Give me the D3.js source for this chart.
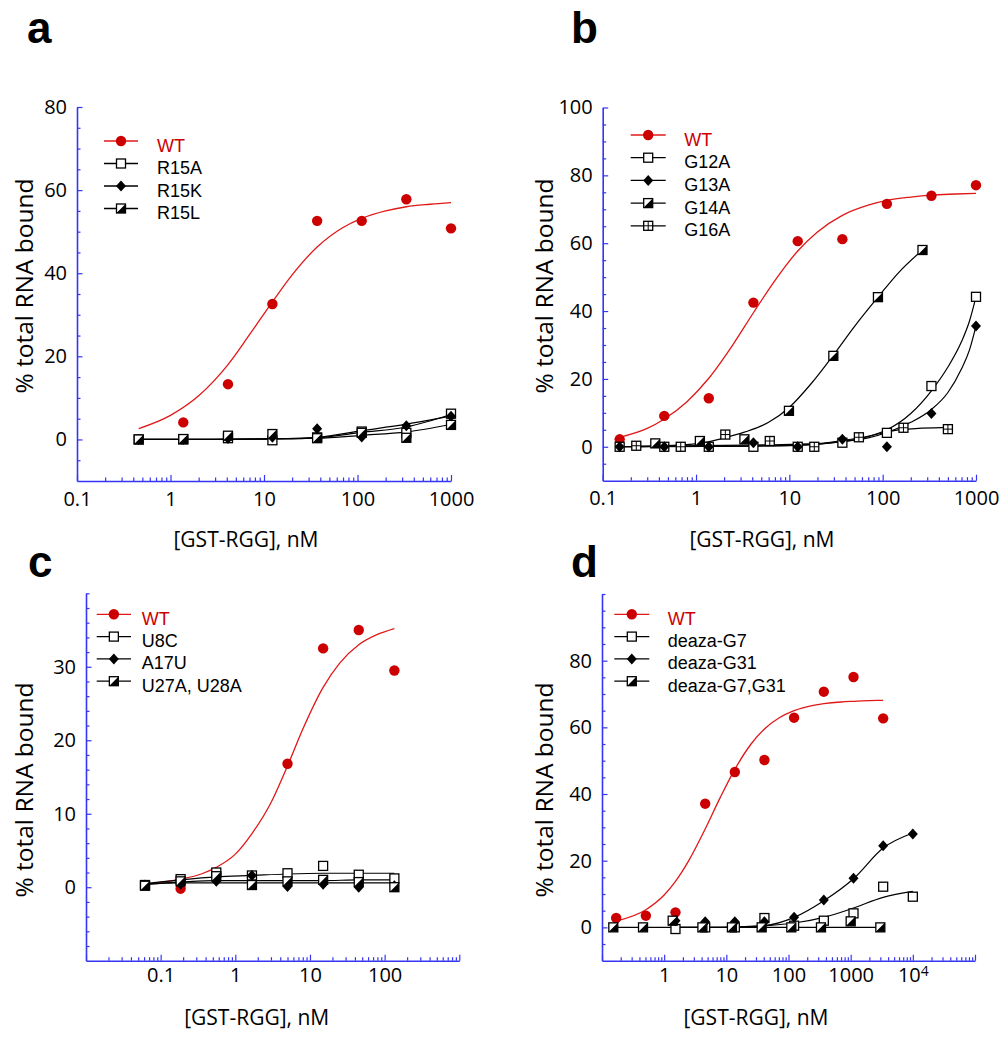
<!DOCTYPE html>
<html><head><meta charset="utf-8">
<script src="https://cdn.jsdelivr.net/npm/d3@7"></script>
<style>
body{margin:0;background:#fff}
svg text{font-family:"Open Sans",sans-serif}
svg text.leg{font-family:"Liberation Sans",Arial,sans-serif}
</style></head><body>
<svg id="chart" width="1005" height="1050"></svg>
<script>
// ---------------- Panel a ----------------
const aConc = [0.457, 1.37, 4.12, 12.3, 37, 111, 333, 1000];
const aConcWT = [1.37, 4.12, 12.3, 37, 111, 333, 1000];
const aWT = [4.1, 13.3, 32.6, 52.6, 52.6, 57.8, 50.8];
const aWTfitConc = [0.457, 1, 2, 4.12, 7, 12.3, 20, 37, 70, 111, 200, 333, 600, 1000];
const aWTfit = [2.6, 5.8, 10.5, 18.0, 25.2, 33.1, 39.6, 46.3, 51.0, 53.2, 55.0, 56.0, 56.6, 57.0];
const aR15A = [0, 0, 0.3, -0.2, 0.5, 1.9, 1.6, 6.2];
const aR15K = [0, 0, 0.2, 0.5, 2.6, 0.6, 3.3, 5.6];
const aR15L = [0, 0.1, 0.9, 1.3, 0.3, 1.6, 0.4, 3.5];
const aR15Afit = [0, 0, 0, 0.1, 0.4, 1.7, 3.0, 6.0];
const aR15Kfit = [0, 0, 0, 0.1, 0.5, 2.1, 3.7, 5.6];
const aR15Lfit = [0, 0, 0.1, 0.2, 0.3, 1.0, 1.8, 3.6];
const aYTicks = [0, 20, 40, 60, 80];
const aXLabels = [0.1, 1, 10, 100, 1000];

// ---------------- Panel b ----------------
const bConc = [0.152, 0.457, 1.37, 4.12, 12.3, 37, 111, 333, 1000];
const bWT = [2.2, 9.1, 14.3, 42.5, 60.6, 61.2, 71.6, 74.0, 77.1];
const bWTfitConc = [0.152, 0.3, 0.457, 0.8, 1.37, 2.5, 4.12, 7, 12.3, 20, 37, 70, 111, 200, 333, 600, 1000];
const bWTfit = [2.8, 5.4, 8.2, 13.3, 20.2, 30.2, 39.5, 49.0, 57.7, 63.3, 68.2, 71.2, 72.6, 73.6, 74.2, 74.5, 74.7];
const bG12A = [0, 0, 0, 0, 0, 1.2, 4.1, 17.9, 44.2];
const bG13A = [0, 0, 0, 1.2, 0, 2.2, 0, 9.8, 35.6];
const bLateFitConc = [0.152, 1.37, 12.3, 37, 70, 111, 200, 333, 500, 700, 850, 1000];
const bG12Afit = [0, 0.1, 0.5, 1.6, 3.0, 5.0, 9.8, 16.5, 23.5, 31.0, 37.0, 44.2];
const bG13Afit = [0, 0.1, 0.4, 1.5, 2.6, 4.2, 7.2, 11.0, 16.0, 23.0, 28.5, 35.6];
const bConcG14A = [0.366, 1.1, 3.3, 9.9, 29.6, 89, 267];
const bG14A = [1.0, 1.7, 2.2, 10.6, 26.8, 44.1, 58.0];
const bG14AfitConc = [0.152, 0.366, 1.1, 2, 3.3, 6, 9.9, 17, 29.6, 50, 89, 150, 267];
const bG14Afit = [0, 0.2, 1.0, 2.6, 4.3, 7.2, 11.5, 18.5, 27.0, 35.5, 44.1, 51.5, 58.0];
const bConcG16A = [0.229, 0.686, 2.06, 6.17, 18.5, 55.6, 167, 500];
const bG16A = [0.3, 0, 3.6, 1.7, 0, 2.8, 5.6, 5.2];
const bG16Afit = [0.2, 0.3, 0.4, 0.6, 0.9, 2.6, 5.1, 5.7];
const bYTicks = [0, 20, 40, 60, 80, 100];
const bXLabels = [0.1, 1, 10, 100, 1000];

// ---------------- Panel c ----------------
const cConc = [0.0617, 0.185, 0.556, 1.67, 5, 15, 45, 135];
const cConcWT = [0.185, 0.556, 1.67, 5, 15, 45, 135];
const cWT = [-0.2, 1.8, 1.3, 16.8, 32.5, 35.0, 29.5];
const cWTfitConc = [0.0617, 0.185, 0.35, 0.556, 1, 1.67, 3, 5, 8, 15, 25, 45, 80, 135];
const cWTfit = [0.4, 1.1, 1.8, 2.7, 4.5, 7.3, 11.5, 16.5, 21.5, 27.2, 30.5, 33.0, 34.4, 35.2];
const cU8C = [0.3, 1.1, 2.0, 1.6, 1.9, 2.9, 1.7, 1.2];
const cA17U = [0.3, 0.4, 0.8, 1.6, 0.1, 0.4, 0.0, 0.2];
const cU27A = [0.2, 0.8, 1.5, 0.3, 0.8, 1.0, 0.7, 0.0];
const cU8Cfit = [0.5, 1.0, 1.4, 1.6, 1.8, 1.9, 1.9, 1.9];
const cA17Ufit = [0.4, 0.6, 0.6, 0.6, 0.6, 0.6, 0.6, 0.6];
const cU27Afit = [0.4, 0.7, 0.9, 0.9, 0.9, 0.9, 1.0, 1.0];
const cYTicks = [0, 10, 20, 30];
const cXLabels = [0.1, 1, 10, 100];

// ---------------- Panel d ----------------
const dConcWT = [0.169, 0.508, 1.52, 4.57, 13.7, 41, 123, 370, 1111, 3333];
const dWT = [2.8, 3.5, 4.5, 37.1, 46.6, 50.2, 62.9, 70.7, 75.1, 62.7];
const dWTfitConc = [0.169, 0.508, 1, 1.52, 2.5, 4.57, 8, 13.7, 25, 41, 70, 123, 250, 370, 700, 1111, 2000, 3333];
const dWTfit = [1.9, 5.3, 9.7, 13.8, 20.1, 29.5, 39.0, 47.4, 55.0, 59.5, 62.8, 65.0, 66.6, 67.1, 67.6, 67.8, 68.0, 68.1];
const dConcHigh = [1.52, 4.57, 13.7, 41, 123, 370, 1111, 3333, 10000];
const dG7 = [-0.5, 0, 0, 2.8, 0.5, 2.0, 4.2, 12.2, 9.2];
const dG7fit = [0, 0, 0.1, 0.5, 1.3, 3.0, 5.8, 9.0, 10.8];
const dG31 = [2.0, 1.7, 1.7, 1.7, 3.0, 8.2, 14.7, 24.5, 28.0];
const dG31fit = [0, 0, 0.1, 0.5, 3.0, 8.0, 14.6, 23.8, 28.3];
const dConcLow = [0.152, 0.457, 1.37, 4.12, 12.3, 37, 111, 333, 1000, 3000];
const dG7G31 = [0, 0, 2.0, 0, 0, 0, 0, 0, 1.8, 0];
const dG7G31fit = [0, 0, 0, 0, 0, 0, 0, 0, 0, 0];
const dYTicks = [0, 20, 40, 60, 80];
const dXLabels = [1, 10, 100, 1000, 10000];

// ---------------- drawing ----------------
const svg = d3.select('#chart');
svg.append('rect').attr('width', 1005).attr('height', 1050).attr('fill', '#fff');
const AXIS = '#3535f5';
const RED = '#cc0000';
const zip = (xs, ys) => xs.map((v, i) => [v, ys[i]]);

function drawMarker(g, type, cx, cy) {
  const s = 9;
  const m = g.append('g').attr('transform', `translate(${cx},${cy})`);
  if (type === 'circle') {
    m.append('circle').attr('r', 5.2).attr('fill', RED);
  } else if (type === 'diamond') {
    m.append('path').attr('d', 'M0,-5.5L5,0L0,5.5L-5,0Z').attr('fill', '#000');
  } else {
    m.append('rect').attr('x', -s / 2).attr('y', -s / 2).attr('width', s).attr('height', s)
      .attr('fill', '#fff').attr('stroke', '#000').attr('stroke-width', 1.3);
    if (type === 'half') {
      m.append('path').attr('d', `M${s/2},${-s/2}L${s/2},${s/2}L${-s/2},${s/2}Z`).attr('fill', '#000');
    } else if (type === 'plus') {
      m.append('path').attr('d', `M0,${-s/2}V${s/2}M${-s/2},0H${s/2}`).attr('stroke', '#000').attr('stroke-width', 1);
    }
  }
}

function logMinors(lo, hi) {
  const t = [];
  for (let e = Math.floor(Math.log10(lo)); e < Math.ceil(Math.log10(hi)); e++)
    for (let m = 2; m <= 9; m++) { const v = m * Math.pow(10, e); if (v > lo * 1.001 && v < hi * 0.999) t.push(v); }
  return t;
}
function decades(lo, hi) {
  const t = [];
  for (let e = Math.round(Math.log10(lo)); e <= Math.round(Math.log10(hi)); e++) t.push(Math.pow(10, e));
  return t;
}

function drawPanel(c) {
  const g = svg.append('g');
  const x = d3.scaleLog().domain(c.xDomain).range(c.xRange);
  const y = d3.scaleLinear().domain(c.yDomain).range(c.yRange);

  g.append('text').attr('x', c.letterPos[0]).attr('y', c.letterPos[1]).text(c.letter)
    .style('font-family', '"Liberation Sans", Arial, sans-serif')
    .attr('font-weight', 'bold').attr('font-size', 44);

  const isLabel = d => c.xLabels.some(v => Math.abs(v - d) / d < 1e-6);
  const xAx = g.append('g').attr('transform', `translate(0,${c.yRange[0]})`);
  xAx.call(d3.axisBottom(x).tickValues(decades(c.xDomain[0], c.xDomain[1]))
    .tickFormat(d => isLabel(d) ? String(d) : '').tickSizeInner(-6).tickSizeOuter(0).tickPadding(c.xPad));
  const xMin = g.append('g').attr('transform', `translate(0,${c.yRange[0]})`);
  xMin.call(d3.axisBottom(x).tickValues(logMinors(c.xDomain[0], c.xDomain[1])).tickFormat('').tickSizeInner(-3.5).tickSizeOuter(0));
  xMin.select('.domain').remove();
  xAx.selectAll('text').attr('font-size', 20).attr('fill', '#000');
  xAx.selectAll('.tick text').filter(d => d === 10000).each(function () {
    const t = d3.select(this); t.text('');
    t.append('tspan').text('10');
    t.append('tspan').attr('dy', '-0.45em').attr('font-size', 14).text('4');
  });

  const yAx = g.append('g').attr('transform', `translate(${c.xRange[0]},0)`);
  yAx.call(d3.axisLeft(y).tickValues(c.yTicks).tickFormat(d3.format('d')).tickSizeInner(-5.5).tickSizeOuter(0).tickPadding(10));
  const yMinVals = d3.range(c.yDomain[0] + c.yMinor, c.yDomain[1] + 1e-9, c.yMinor).filter(v => !c.yTicks.includes(v));
  const yMin = g.append('g').attr('transform', `translate(${c.xRange[0]},0)`);
  yMin.call(d3.axisLeft(y).tickValues(yMinVals).tickFormat('').tickSizeInner(-3.5).tickSizeOuter(0));
  yMin.select('.domain').remove();
  yAx.selectAll('text').attr('font-size', 20).attr('fill', '#000');

  g.selectAll('.domain').attr('stroke', AXIS).attr('stroke-width', 1.6);
  g.selectAll('.tick line').attr('stroke', AXIS).attr('stroke-width', 1.2);

  g.append('text').attr('x', c.xTitle[0]).attr('y', c.xTitle[1]).attr('text-anchor', 'middle')
    .attr('dominant-baseline', 'central').attr('font-size', 21).text('[GST-RGG], nM');
  g.append('text').attr('transform', `translate(${c.yTitle[0]},${c.yTitle[1]}) rotate(-90)`).attr('text-anchor', 'middle')
    .attr('dominant-baseline', 'central').attr('font-size', 24.5).text('% total RNA bound');

  const line = d3.line().x(d => x(d[0])).y(d => y(d[1])).curve(d3.curveMonotoneX);
  c.series.forEach(s => {
    g.append('path').attr('d', line(zip(s.fitX, s.fitY))).attr('fill', 'none')
      .attr('stroke', s.marker === 'circle' ? '#e01818' : '#000').attr('stroke-width', s.marker === 'circle' ? 1.3 : 1.2);
  });
  c.series.forEach(s => {
    zip(s.x, s.y).forEach(p => drawMarker(g, s.marker, x(p[0]), y(p[1])));
  });

  const L = c.legend;
  c.series.forEach((s, i) => {
    const yy = L.y0 + i * L.dy;
    g.append('line').attr('x1', L.x0).attr('x2', L.x1).attr('y1', yy).attr('y2', yy)
      .attr('stroke', s.marker === 'circle' ? '#e01818' : '#000').attr('stroke-width', 1.3);
    drawMarker(g, s.marker, (L.x0 + L.x1) / 2, yy);
    g.append('text').attr('class', 'leg').attr('x', L.tx).attr('y', yy + 4.5).attr('dominant-baseline', 'central')
      .attr('font-size', 18).attr('fill', s.marker === 'circle' ? RED : '#000').text(s.name);
  });
}

drawPanel({
  letter: 'a', letterPos: [27, 43],
  xDomain: [0.1, 1000], xRange: [77, 451], yDomain: [-10, 80], yRange: [481, 107],
  yTicks: aYTicks, yMinor: 5, xLabels: aXLabels, xPad: 10.5,
  xTitle: [246, 539], yTitle: [23, 286],
  legend: { x0: 104, x1: 138, tx: 157, y0: 141, dy: 22.5 },
  series: [
    { name: 'WT', marker: 'circle', x: aConcWT, y: aWT, fitX: aWTfitConc, fitY: aWTfit },
    { name: 'R15A', marker: 'open', x: aConc, y: aR15A, fitX: aConc, fitY: aR15Afit },
    { name: 'R15K', marker: 'diamond', x: aConc, y: aR15K, fitX: aConc, fitY: aR15Kfit },
    { name: 'R15L', marker: 'half', x: aConc, y: aR15L, fitX: aConc, fitY: aR15Lfit }
  ]
});

drawPanel({
  letter: 'b', letterPos: [571, 43],
  xDomain: [0.1, 1000], xRange: [602.7, 976], yDomain: [-10, 100], yRange: [480.7, 107.5],
  yTicks: bYTicks, yMinor: 5, xLabels: bXLabels, xPad: 10.5,
  xTitle: [762, 539], yTitle: [543, 286],
  legend: { x0: 630.7, x1: 665.7, tx: 684.3, y0: 135, dy: 22.7 },
  series: [
    { name: 'WT', marker: 'circle', x: bConc, y: bWT, fitX: bWTfitConc, fitY: bWTfit },
    { name: 'G12A', marker: 'open', x: bConc, y: bG12A, fitX: bLateFitConc, fitY: bG12Afit },
    { name: 'G13A', marker: 'diamond', x: bConc, y: bG13A, fitX: bLateFitConc, fitY: bG13Afit },
    { name: 'G14A', marker: 'half', x: bConcG14A, y: bG14A, fitX: bG14AfitConc, fitY: bG14Afit },
    { name: 'G16A', marker: 'plus', x: bConcG16A, y: bG16A, fitX: bConcG16A, fitY: bG16Afit }
  ]
});

drawPanel({
  letter: 'c', letterPos: [28, 577],
  xDomain: [0.01, 1000], xRange: [86, 459.3], yDomain: [-10, 40], yRange: [960.7, 593.3],
  yTicks: cYTicks, yMinor: 2, xLabels: cXLabels, xPad: 7.3,
  xTitle: [256.7, 1016.7], yTitle: [23, 790],
  legend: { x0: 96.7, x1: 131, tx: 141.7, y0: 614.3, dy: 22.3 },
  series: [
    { name: 'WT', marker: 'circle', x: cConcWT, y: cWT, fitX: cWTfitConc, fitY: cWTfit },
    { name: 'U8C', marker: 'open', x: cConc, y: cU8C, fitX: cConc, fitY: cU8Cfit },
    { name: 'A17U', marker: 'diamond', x: cConc, y: cA17U, fitX: cConc, fitY: cA17Ufit },
    { name: 'U27A, U28A', marker: 'half', x: cConc, y: cU27A, fitX: cConc, fitY: cU27Afit }
  ]
});

drawPanel({
  letter: 'd', letterPos: [571, 577],
  xDomain: [0.1, 100000], xRange: [602, 975], yDomain: [-10, 100], yRange: [960.7, 594],
  yTicks: dYTicks, yMinor: 5, xLabels: dXLabels, xPad: 7.3,
  xTitle: [756, 1016.7], yTitle: [543, 790],
  legend: { x0: 614.3, x1: 649.3, tx: 667.7, y0: 614.3, dy: 22.3 },
  series: [
    { name: 'WT', marker: 'circle', x: dConcWT, y: dWT, fitX: dWTfitConc, fitY: dWTfit },
    { name: 'deaza-G7', marker: 'open', x: dConcHigh, y: dG7, fitX: dConcHigh, fitY: dG7fit },
    { name: 'deaza-G31', marker: 'diamond', x: dConcHigh, y: dG31, fitX: dConcHigh, fitY: dG31fit },
    { name: 'deaza-G7,G31', marker: 'half', x: dConcLow, y: dG7G31, fitX: dConcLow, fitY: dG7G31fit }
  ]
});
</script></body></html>
